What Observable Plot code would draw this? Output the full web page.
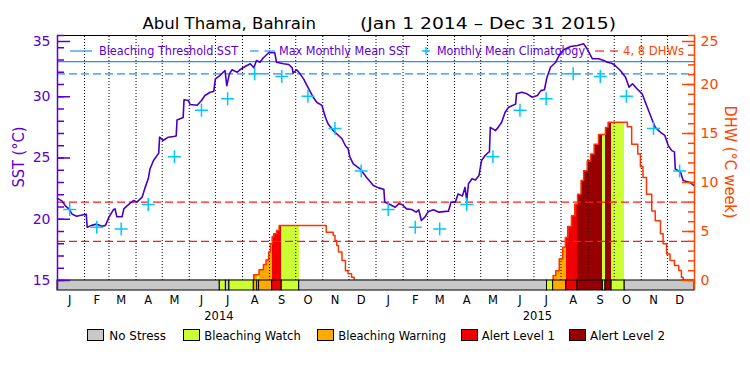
<!DOCTYPE html>
<html>
<head>
<meta charset="utf-8">
<script src="https://cdn.jsdelivr.net/npm/d3@7"></script>
<script src="https://cdn.jsdelivr.net/npm/@observablehq/plot@0.6"></script>
<style>
html, body { margin: 0; padding: 0; background: #ffffff; }
#wrap { position: relative; width: 750px; height: 375px; overflow: hidden; background: #ffffff; }
#wrap > svg { position: absolute; left: 0; top: 0; }
</style>
</head>
<body>
<div id="wrap"></div>
<script>
// ---------------- data ----------------
const sstDaily = [
["2014-01-01",21.7],["2014-01-06",21.5],["2014-01-10",21.1],["2014-01-14",20.85],["2014-01-18",20.4],["2014-01-23",20.25],["2014-01-29",20.35],["2014-02-03",20.4],["2014-02-04",19.35],["2014-02-09",19.5],["2014-02-15",19.6],["2014-02-21",19.43],["2014-02-25",19.5],["2014-03-01",20.17],["2014-03-06",20.77],["2014-03-08",20.85],["2014-03-10",20.2],["2014-03-16",20.2],["2014-03-18",20.85],["2014-03-23",21.18],["2014-03-29",21.53],["2014-04-02",21.4],["2014-04-08",21.8],["2014-04-11",22.5],["2014-04-15",23.3],["2014-04-17",24.1],["2014-04-21",24.8],["2014-04-27",25.4],["2014-04-28",26.7],["2014-05-02",26.43],["2014-05-08",26.7],["2014-05-14",26.76],["2014-05-17",26.8],["2014-05-18",28.1],["2014-05-25",28.3],["2014-05-26",29.75],["2014-05-31",29.7],["2014-06-02",29.37],["2014-06-10",29.3],["2014-06-15",29.7],["2014-06-19",30.1],["2014-06-25",30.37],["2014-06-29",30.43],["2014-07-01",31.46],["2014-07-06",31.73],["2014-07-12",32.14],["2014-07-14",30.9],["2014-07-17",31.87],["2014-07-20",32.2],["2014-07-26",32.0],["2014-07-29",32.2],["2014-08-04",32.47],["2014-08-10",32.69],["2014-08-14",32.36],["2014-08-17",32.96],["2014-08-21",32.82],["2014-08-25",33.18],["2014-08-31",33.59],["2014-09-07",33.59],["2014-09-09",32.82],["2014-09-17",32.69],["2014-09-23",32.63],["2014-09-27",32.36],["2014-09-28",31.92],["2014-10-02",32.2],["2014-10-06",31.87],["2014-10-10",31.46],["2014-10-14",30.9],["2014-10-17",30.5],["2014-10-21",29.96],["2014-10-25",29.55],["2014-10-31",29.3],["2014-11-04",28.33],["2014-11-07",27.8],["2014-11-13",27.24],["2014-11-17",26.98],["2014-11-23",26.57],["2014-11-27",26.0],["2014-11-30",25.75],["2014-12-02",25.1],["2014-12-06",24.52],["2014-12-14",24.1],["2014-12-21",23.43],["2014-12-29",22.76],
["2015-01-04",22.56],["2015-01-08",22.48],["2015-01-10",22.45],["2015-01-11",21.4],["2015-01-17",21.2],["2015-01-23",20.98],["2015-01-27",21.26],["2015-01-31",21.2],["2015-02-05",20.85],["2015-02-11",20.8],["2015-02-16",20.58],["2015-02-19",20.77],["2015-02-22",19.9],["2015-02-26",20.17],["2015-03-02",20.63],["2015-03-08",20.77],["2015-03-14",20.58],["2015-03-25",20.66],["2015-03-28",21.4],["2015-04-02",21.4],["2015-04-05",22.07],["2015-04-10",21.9],["2015-04-13",22.6],["2015-04-15",21.53],["2015-04-17",22.9],["2015-04-21",23.3],["2015-04-25",23.2],["2015-04-29",23.57],["2015-05-02",24.8],["2015-05-06",25.2],["2015-05-10",25.47],["2015-05-11",25.5],["2015-05-12",27.5],["2015-05-18",27.24],["2015-05-21",27.5],["2015-05-25",27.92],["2015-05-29",28.74],["2015-06-02",29.15],["2015-06-07",29.3],["2015-06-10",29.4],["2015-06-11",30.24],["2015-06-17",30.37],["2015-06-23",30.24],["2015-06-29",29.96],["2015-07-05",30.1],["2015-07-09",30.5],["2015-07-13",30.57],["2015-07-16",31.6],["2015-07-20",32.41],["2015-07-26",32.82],["2015-07-30",33.37],["2015-08-04",33.83],["2015-08-12",34.1],["2015-08-20",34.18],["2015-08-27",34.32],["2015-08-31",33.9],["2015-09-06",33.1],["2015-09-13",33.1],["2015-09-19",32.96],["2015-09-23",32.82],["2015-09-28",32.74],["2015-10-02",32.55],["2015-10-08",32.14],["2015-10-14",31.6],["2015-10-18",30.78],["2015-10-22",31.06],["2015-10-27",30.65],["2015-11-02",30.24],["2015-11-07",29.3],["2015-11-13",28.2],["2015-11-17",27.5],["2015-11-23",27.1],["2015-11-28",26.84],["2015-12-02",26.0],["2015-12-06",25.6],["2015-12-09",25.5],["2015-12-10",24.1],["2015-12-16",23.84],["2015-12-19",23.16],["2015-12-27",23.0],["2015-12-31",22.76]
];
const climatologyMonthly = [20.8, 19.35, 19.2, 21.2, 25.1, 28.9, 29.83, 31.87, 31.65, 30.05, 27.4, 23.93];
const climatologyYears = [2014, 2015];
const maxMonthlyMean = 31.87;
const bleachingThreshold = 32.87;
const dhwRefLevels = [4, 8];
const dhwSeries = [
["2014-01-01",0],["2014-08-14",0.58],["2014-08-20",1.09],["2014-08-25",1.63],["2014-08-28",2.1],["2014-08-31",2.9],["2014-09-02",3.74],["2014-09-04",4.5],["2014-09-06",4.76],["2014-09-09",5.1],["2014-09-12",5.6],["2014-11-05",4.93],["2014-11-13",4.6],["2014-11-15",4.08],["2014-11-17",3.57],["2014-11-19",2.9],["2014-11-23",2.04],["2014-11-27",1.0],["2014-11-30",0.68],["2014-12-04",0.34],["2014-12-07",0],
["2015-07-23",0.5],["2015-07-26",1.0],["2015-07-30",2.2],["2015-08-03",3.4],["2015-08-06",4.4],["2015-08-09",5.5],["2015-08-13",6.6],["2015-08-17",7.8],["2015-08-20",8.8],["2015-08-24",10.2],["2015-08-27",11.2],["2015-08-31",12.2],["2015-09-04",12.9],["2015-09-08",13.9],["2015-09-13",14.9],["2015-09-21",15.6],["2015-09-24",16.15],["2015-10-16",15.7],["2015-10-21",13.9],["2015-10-28",12.9],["2015-10-31",11.6],["2015-11-03",10.5],["2015-11-07",8.8],["2015-11-13",7.1],["2015-11-17",6.1],["2015-11-23",4.76],["2015-11-26",3.74],["2015-11-30",2.7],["2015-12-04",2.04],["2015-12-09",1.53],["2015-12-14",1.02],["2015-12-17",0.34],["2015-12-19",0],["2015-12-31",0]
];
const stressLabels = ["No Stress", "Bleaching Watch", "Bleaching Warning", "Alert Level 1", "Alert Level 2"];
const stressColors = ["#c8c8c8", "#ccff33", "#ffaa00", "#f00000", "#960000"];
const stressPeriods = [
["2014-01-01","2014-07-06",0],["2014-07-06","2014-07-13",1],["2014-07-13","2014-07-17",0],["2014-07-17","2014-08-14",1],["2014-08-14","2014-08-18",2],["2014-08-18","2014-08-20",1],["2014-08-20","2014-09-04",2],["2014-09-04","2014-09-15",3],["2014-09-15","2014-10-05",1],["2014-10-05","2015-07-16",0],
["2015-07-16","2015-07-23",1],["2015-07-23","2015-08-07",2],["2015-08-07","2015-08-20",3],["2015-08-20","2015-09-18",4],["2015-09-18","2015-09-21",1],["2015-09-21","2015-09-28",4],["2015-09-28","2015-10-13",1],["2015-10-13","2016-01-01",0]
];
const monthLetters = ["J","F","M","A","M","J","J","A","S","O","N","D"];
const yearLabels = ["2014", "2015"];
const sstTicksMajor = [15, 20, 25, 30];
const sstTickTop = [35];
const dhwTicksMajor = [0, 5, 10, 15, 20];
const dhwTickTop = [25];
const titleParts = ["Abul Thama, Bahrain", "(Jan 1 2014 \u2013 Dec 31 2015)"];
const topLegendLabels = ["Bleaching Threshold SST", "Max Monthly Mean SST", "Monthly Mean Climatology", "4, 8 DHWs"];
const sstAxisLabel = "SST (\u00B0C)";
const dhwAxisLabel = "DHW (\u00B0C week)";

// ---------------- styling ----------------
const purple = "#5a00d2", sstColor = "#4800c4", orange = "#ff4400", dhwLineColor = "#ff3300",
      refRed = "#ff1a1a", blue = "#1e90ff", cyan = "#00c8ff";
const FONT = "DejaVu Sans, sans-serif";

// ---------------- derived tables ----------------
const parse = d3.utcParse("%Y-%m-%d");
const xStart = parse("2014-01-01"), xEnd = parse("2016-01-01");
const yLow = 15 - 10 / 12.25;            // stress bar below the SST=15 line
const dhwToSst = v => 15 + v * 20 / 25;  // DHW 0..25 shares the frame with SST 15..35

const sst = sstDaily.map(([d, v]) => ({date: parse(d), v}));
const clim = climatologyYears.flatMap(y => climatologyMonthly.map((v, i) => ({date: new Date(Date.UTC(y, i, 15)), v})));
const dhw = dhwSeries.map(([d, v]) => ({date: parse(d), v}));
const stress = stressPeriods.map(([a, b, l]) => ({x1: parse(a), x2: parse(b), level: l, label: stressLabels[l]}));
const dhwSteps = dhw.map((p, i) => ({x1: p.date, x2: i + 1 < dhw.length ? dhw[i + 1].date : xEnd, v: p.v}));
const dhwFill = [];
for (const s of stress) {
  if (s.level === 0) continue;
  for (const st of dhwSteps) {
    const a = Math.max(+s.x1, +st.x1), b = Math.min(+s.x2, +st.x2);
    if (a < b && st.v > 0) dhwFill.push({x1: new Date(a), x2: new Date(b), v: st.v, label: s.label});
  }
}
const monthStarts = d3.utcMonth.range(d3.utcMonth.offset(xStart, 1), xEnd);
const monthMids = d3.utcMonth.range(xStart, xEnd).map(m => d3.utcDay.offset(m, 14));
const yearPos = yearLabels.map(y => parse(y + "-07-05"));
const plusSymbol = {draw(ctx) { const r = 6.5; ctx.moveTo(-r, 0); ctx.lineTo(r, 0); ctx.moveTo(0, -r); ctx.lineTo(0, r); }};

const chart = Plot.plot({
  width: 750, height: 375,
  marginLeft: 57, marginRight: 56, marginTop: 35, marginBottom: 85,
  x: {type: "utc", domain: [xStart, xEnd], label: null},
  y: {domain: [yLow, 35], label: null},
  color: {domain: stressLabels, range: stressColors},
  style: {fontFamily: FONT, fontSize: "12px", background: "transparent", color: "black", overflow: "visible"},
  marks: [
    Plot.rect(dhwFill, {x1: "x1", x2: "x2", y1: () => 15, y2: d => dhwToSst(d.v), fill: "label", shapeRendering: "crispEdges"}),
    Plot.ruleX(monthStarts, {y1: () => 15, y2: () => 35, stroke: "black", strokeDasharray: "1,2"}),
    Plot.ruleY([bleachingThreshold], {stroke: blue, strokeWidth: 1.2}),
    Plot.ruleY([maxMonthlyMean], {stroke: blue, strokeWidth: 1.2, strokeDasharray: "8,4"}),
    Plot.ruleY(dhwRefLevels.map(dhwToSst), {stroke: refRed, strokeWidth: 1.2, strokeDasharray: "8,4"}),
    Plot.line(dhw, {x: "date", y: d => dhwToSst(d.v), curve: "step-after", stroke: dhwLineColor, strokeWidth: 1.5}),
    Plot.line(sst, {x: "date", y: "v", stroke: sstColor, strokeWidth: 1.6}),
    Plot.dot(clim, {x: "date", y: "v", symbol: plusSymbol, r: 6, stroke: cyan, fill: "none", strokeWidth: 1.5}),
    Plot.rect(stress, {x1: "x1", x2: "x2", y1: () => yLow, y2: () => 15, fill: "label", stroke: "black", strokeWidth: 1}),
    Plot.ruleY([35], {stroke: "black", strokeWidth: 1.2}),
    Plot.ruleX([xStart], {stroke: purple, strokeWidth: 1.5}),
    Plot.ruleX([xEnd], {stroke: orange, strokeWidth: 1.5}),
    // left SST axis
    Plot.axisY(sstTicksMajor, {anchor: "left", tickSize: -13, tickPadding: 20, color: purple, fontSize: 14, strokeWidth: 1.5}),
    Plot.axisY(sstTickTop, {anchor: "left", tickSize: -13, tickPadding: 20, dy: 6, color: purple, fontSize: 14, strokeWidth: 1.5}),
    Plot.axisY(d3.range(15, 36), {anchor: "left", tickSize: -7, tickFormat: () => "", color: purple, strokeWidth: 1.5}),
    // right DHW axis
    Plot.axisY(dhwTicksMajor.map(dhwToSst), {anchor: "right", tickSize: -13, tickPadding: 19, color: orange, fontSize: 14, strokeWidth: 1.5, tickFormat: d => String(Math.round((d - 15) * 25 / 20))}),
    Plot.axisY(dhwTickTop.map(dhwToSst), {anchor: "right", tickSize: -13, tickPadding: 19, dy: 6, color: orange, fontSize: 14, strokeWidth: 1.5, tickFormat: d => String(Math.round((d - 15) * 25 / 20))}),
    Plot.axisY(d3.range(0, 26).map(dhwToSst), {anchor: "right", tickSize: -7, tickFormat: () => "", color: orange, strokeWidth: 1.5}),
    // bottom month / year labels
    Plot.axisX(monthMids, {anchor: "bottom", tickSize: 0, tickPadding: 5, fontSize: 11.5, color: "black", tickFormat: d => monthLetters[d.getUTCMonth()]}),
    Plot.axisX(yearPos, {anchor: "bottom", tickSize: 0, tickPadding: 21, fontSize: 11.5, color: "black", tickFormat: d => String(d.getUTCFullYear())})
  ]
});
document.getElementById("wrap").appendChild(chart);

// ---------------- title, legends, axis titles ----------------
const ov = d3.select("#wrap").append("svg")
  .attr("width", 750).attr("height", 375)
  .attr("font-family", FONT)
  .style("pointer-events", "none");
function label(x, y, s, size, len, fill) {
  const e = ov.append("text").attr("x", x).attr("y", y).attr("font-size", size).attr("fill", fill).text(s);
  if (len) e.attr("textLength", len).attr("lengthAdjust", "spacingAndGlyphs");
  return e;
}
// title
label(142.5, 28.5, titleParts[0], 15, 173.5, "black");
label(360, 28.5, titleParts[1], 15, 256, "black");

// top legend
ov.append("line").attr("x1", 70).attr("x2", 92).attr("y1", 51).attr("y2", 51).attr("stroke", blue).attr("stroke-width", 1.2);
[[250, 258.5], [264.5, 275]].forEach(([a, b]) => ov.append("line").attr("x1", a).attr("x2", b).attr("y1", 51).attr("y2", 51).attr("stroke", blue).attr("stroke-width", 1.2));
ov.append("path").attr("d", "M422,51H430M426,47V55").attr("stroke", cyan).attr("stroke-width", 1.5).attr("fill", "none");
[[595, 604], [610, 618]].forEach(([a, b]) => ov.append("line").attr("x1", a).attr("x2", b).attr("y1", 51).attr("y2", 51).attr("stroke", refRed).attr("stroke-width", 1.2));
const topLegendX = [99, 279, 437, 623], topLegendLen = [139, 131, 148, 61];
topLegendLabels.forEach((s, i) => label(topLegendX[i], 55, s, 11.5, topLegendLen[i], i === 3 ? orange : purple));

// bottom stress legend
const boxX = [87.5, 183.5, 317.5, 461.5, 569.5], legTextX = [109.3, 204.3, 338.3, 481.7, 590], legLen = [56.7, 96.4, 107.7, 73.3, 75];
stressLabels.forEach((s, i) => {
  ov.append("rect").attr("x", boxX[i]).attr("y", 329.5).attr("width", 16).attr("height", 11)
    .attr("fill", stressColors[i]).attr("stroke", "black").attr("stroke-width", 1);
  label(legTextX[i], 340, s, 11.5, legLen[i], "black");
});

// axis titles
ov.append("text").attr("transform", "translate(24,157) rotate(-90)").attr("text-anchor", "middle")
  .attr("font-size", 16).attr("fill", purple).attr("textLength", 61).attr("lengthAdjust", "spacingAndGlyphs").text(sstAxisLabel);
ov.append("text").attr("transform", "translate(725,162) rotate(90)").attr("text-anchor", "middle")
  .attr("font-size", 16).attr("fill", orange).attr("textLength", 113).attr("lengthAdjust", "spacingAndGlyphs").text(dhwAxisLabel);
</script>
</body>
</html>
